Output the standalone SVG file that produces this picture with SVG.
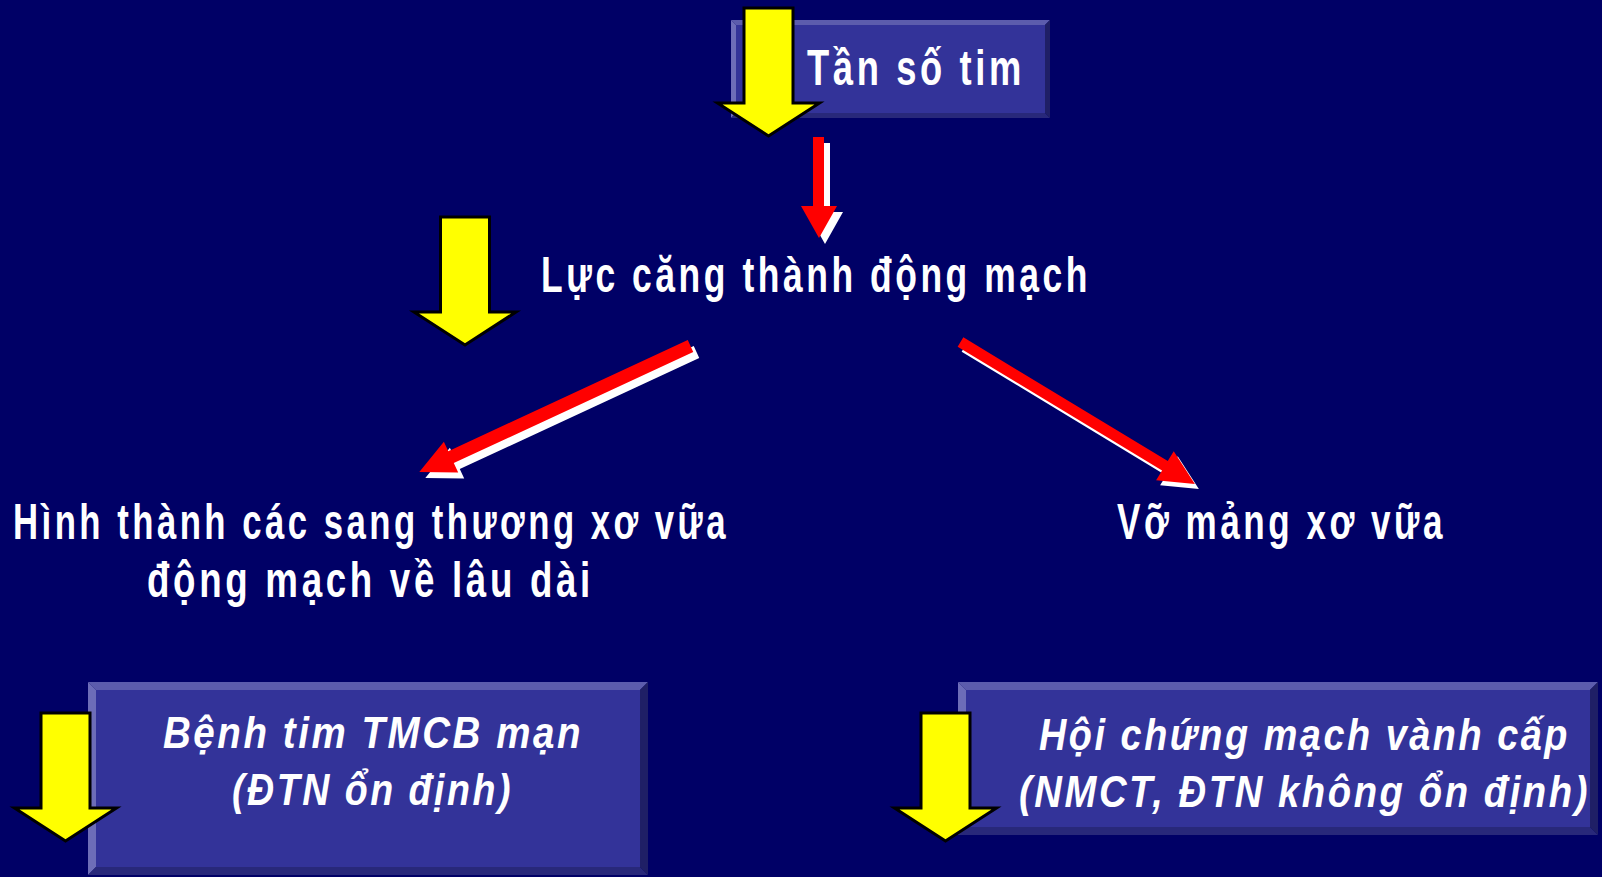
<svg xmlns="http://www.w3.org/2000/svg" xmlns:xlink="http://www.w3.org/1999/xlink" width="1602" height="877" viewBox="0 0 1602 877">
<style>
.bg{fill:#000066}
.fill{fill:#333399}
.bt{fill:#5c5cad}
.bl{fill:#6d6db8}
.bb{fill:#28287a}
.br{fill:#1f1f66}
.ya{fill:#ffff00;stroke:#000000;stroke-width:3;stroke-linejoin:miter}
.red{fill:#ff0000}
.sh{fill:#ffffff}
.t{fill:#ffffff;font-family:"Liberation Sans",Arial,sans-serif;font-weight:bold;font-size:50px;letter-spacing:5px}
.ti{fill:#ffffff;font-family:"Liberation Sans",Arial,sans-serif;font-weight:bold;font-style:italic;font-size:45px;letter-spacing:3px}
</style>
<defs>
<path id="yarrow" d="M-24.5,0 H24.5 V95 H51 L0,128 L-51,95 H-24.5 Z"/>
<path id="rdown" d="M813,137 H824 V206 H837 L819,238 L801,206 H813 Z"/>
<path id="rleft" d="M0,-6.5 H264 V-17 L299,0 L264,17 V6.5 H0 Z"/>
<path id="rright" d="M0,-5.5 H239 V-17 L274,0 L239,17 V5.5 H0 Z"/>
</defs>
<rect class="bg" x="0" y="0" width="1602" height="877"/>

<g id="node-tan-so-tim">
<polygon class="bt" points="731,20 1050,20 1045,25 736,25"/>
<polygon class="bl" points="731,20 736,25 736,113 731,118"/>
<polygon class="bb" points="731,118 736,113 1045,113 1050,118"/>
<polygon class="br" points="1050,20 1050,118 1045,113 1045,25"/>
<rect class="fill" x="736" y="25" width="309" height="88"/>
<text class="t" x="807" y="85" textLength="218" lengthAdjust="spacingAndGlyphs">Tần số tim</text>
</g>

<g id="node-luc-cang">
<text class="t" x="541" y="292" textLength="550" lengthAdjust="spacingAndGlyphs">Lực căng thành động mạch</text>
</g>

<g id="node-hinh-thanh">
<text class="t" x="13" y="539" textLength="716" lengthAdjust="spacingAndGlyphs">Hình thành các sang thương xơ vữa</text>
<text class="t" x="147" y="597" textLength="447" lengthAdjust="spacingAndGlyphs">động mạch về lâu dài</text>
</g>

<g id="node-vo-mang">
<text class="t" x="1117" y="539" textLength="329" lengthAdjust="spacingAndGlyphs">Vỡ mảng xơ vữa</text>
</g>

<g id="node-benh-tim">
<polygon class="bt" points="88,682 648,682 640,690 96,690"/>
<polygon class="bl" points="88,682 96,690 96,867 88,875"/>
<polygon class="bb" points="88,875 96,867 640,867 648,875"/>
<polygon class="br" points="648,682 648,875 640,867 640,690"/>
<rect class="fill" x="96" y="690" width="544" height="177"/>
<text class="ti" x="163" y="748" textLength="420" lengthAdjust="spacingAndGlyphs">Bệnh tim TMCB mạn</text>
<text class="ti" x="232" y="805" textLength="281" lengthAdjust="spacingAndGlyphs">(ĐTN ổn định)</text>
</g>

<g id="node-hoi-chung">
<polygon class="bt" points="958,682 1598,682 1590,690 966,690"/>
<polygon class="bl" points="958,682 966,690 966,827 958,835"/>
<polygon class="bb" points="958,835 966,827 1590,827 1598,835"/>
<polygon class="br" points="1598,682 1598,835 1590,827 1590,690"/>
<rect class="fill" x="966" y="690" width="624" height="137"/>
<text class="ti" x="1039" y="750" textLength="531" lengthAdjust="spacingAndGlyphs">Hội chứng mạch vành cấp</text>
<text class="ti" x="1019" y="807" textLength="571" lengthAdjust="spacingAndGlyphs">(NMCT, ĐTN không ổn định)</text>
</g>

<g id="yellow-arrows">
<use href="#yarrow" class="ya" transform="translate(768.5,8)"/>
<use href="#yarrow" class="ya" transform="translate(465,217)"/>
<use href="#yarrow" class="ya" transform="translate(65.5,713)"/>
<use href="#yarrow" class="ya" transform="translate(945.5,713)"/>
</g>

<g id="connectors">
<use href="#rdown" class="sh" transform="translate(6,6)"/>
<use href="#rdown" class="red"/>
<use href="#rleft" class="sh" transform="translate(696.5,352) rotate(155.1)"/>
<use href="#rleft" class="red" transform="translate(690.5,346) rotate(155.1)"/>
<use href="#rright" class="sh" transform="translate(964.5,347) rotate(31.2)"/>
<use href="#rright" class="red" transform="translate(960.5,342) rotate(31.2)"/>
</g>
</svg>
